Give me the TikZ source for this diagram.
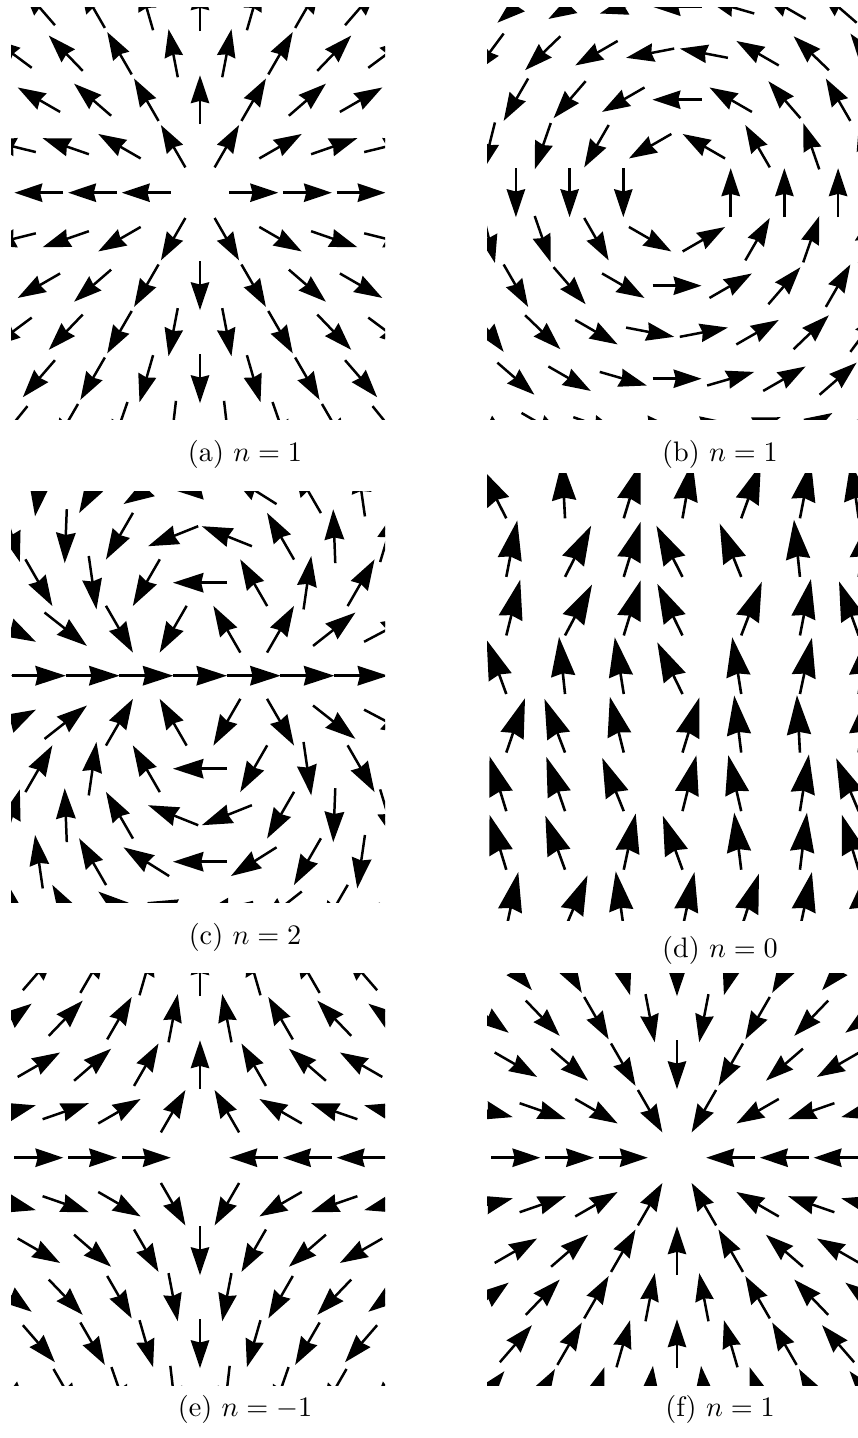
\documentclass[tikz,border=0pt]{standalone}
\usetikzlibrary{arrows.meta}
\tikzset{
  hexarrow/.style={line width=0.88pt, -{Stealth[length=9.9pt,width=6.5pt,inset=0.8pt]}},
  hexarrowbig/.style={line width=0.88pt, -{Stealth[length=10.8pt,width=6.9pt,inset=0.8pt]}},
  ferroarrow/.style={line width=0.92pt, -{Stealth[length=14pt,width=8.5pt,inset=1pt]}},
  subcap/.style={font=\fontsize{10}{12}\selectfont, anchor=base, inner sep=0pt}
}
% #1 cx, #2 cy, #3 angle formula (uses \hth), #4 arrow length, #5 style, #6 draw centre (1/0)
\newcommand\hexfield[6]{%
  \foreach \i in {-5,...,6}{
    \foreach \j in {-8,...,8}{
      \pgfmathsetmacro\hu{\j+0.5*\i}
      \pgfmathsetmacro\hw{-0.8660254*\i}
      \pgfmathsetmacro\hr{abs(\hu)+abs(\hw)}
      \pgfmathsetmacro\hpx{#1+53.7*\hu}
      \pgfmathsetmacro\hpy{#2+46.5*\i}
      \ifdim\hr pt>0.01pt
        \pgfmathsetmacro\hth{atan2(\hw,\hu)}
        \def\hdraw{1}
      \else
        \def\hth{0}
        \def\hdraw{#6}
      \fi
      \if1\hdraw
        \pgfmathsetmacro\fang{#3}
        \pgfmathsetmacro\xa{\hpx-0.5*#4*cos(\fang)}
        \pgfmathsetmacro\ya{\hpy+0.5*#4*sin(\fang)}
        \pgfmathsetmacro\xb{\hpx+0.5*#4*cos(\fang)}
        \pgfmathsetmacro\yb{\hpy-0.5*#4*sin(\fang)}
        \draw[#5] (\xa,\ya) -- (\xb,\yb);
      \fi
    }
  }%
}
\begin{document}
\begin{tikzpicture}[x=0.3546pt, y=-0.3546pt]
\useasboundingbox (0,0) rectangle (857,1438);

% (a) radial outward
\begin{scope}
  \clip (11,7) rectangle (385,419);
  \hexfield{200}{192.7}{\hth}{49}{hexarrow}{0}
\end{scope}
\node[subcap] (capa) at (245,461) {(a) $n=1$};

% (b) vortex
\begin{scope}
  \clip (487,7) rectangle (862,419);
  \hexfield{677}{192.7}{\hth+90}{49}{hexarrow}{0}
\end{scope}
\node[subcap] (capb) at (720,461) {(b) $n=1$};

% (c) n=2
\begin{scope}
  \clip (11,491) rectangle (385,902);
  \hexfield{200}{675.7}{2*\hth}{54}{hexarrowbig}{1}
\end{scope}
\node[subcap] (capc) at (245,944) {(c) $n=2$};

% (d) n=0, ferromagnetic with noise
\begin{scope}
  \clip (487,473) rectangle (862,920);
  \foreach \r/\angs in {
    1/{-27,-3,17,10,20,11,-8},
    2/{11,27,17,-27,-22,-6,10},
    3/{14,28,17,-26,21,11,-20},
    4/{-20,-6,-9,-26,-9,12,8},
    5/{19,-21,-14,17,-7,-3,8},
    6/{-17,-19,-22,14,-13,9,-23},
    7/{-17,-20,12,-20,-7,7,-17},
    8/{12,23,-8,12,18,12,8}}{
    \foreach \a [count=\c] in \angs {
      \pgfmathsetmacro\xa{506.3+58.73*(\c-1)}
      \pgfmathsetmacro\ya{518.3+58.57*(\r-1)}
      \pgfmathsetmacro\xb{\xa+57.5*sin(\a)}
      \pgfmathsetmacro\yb{\ya-57.5*cos(\a)}
      \draw[ferroarrow] (\xa,\ya) -- (\xb,\yb);
    }
  }
\end{scope}
\node[subcap] (capd) at (720,957) {(d) $n=0$};

% (e) antivortex
\begin{scope}
  \clip (11,973) rectangle (385,1385);
  \hexfield{200}{1157.7}{180-\hth}{49}{hexarrow}{0}
\end{scope}
\node[subcap] (cape) at (245,1416) {(e) $n=-1$};

% (f) radial inward
\begin{scope}
  \clip (487,973) rectangle (862,1385);
  \hexfield{677}{1157.7}{\hth+180}{49}{hexarrow}{0}
\end{scope}
\node[subcap] (capf) at (720,1416) {(f) $n=1$};
\end{tikzpicture}
\end{document}
